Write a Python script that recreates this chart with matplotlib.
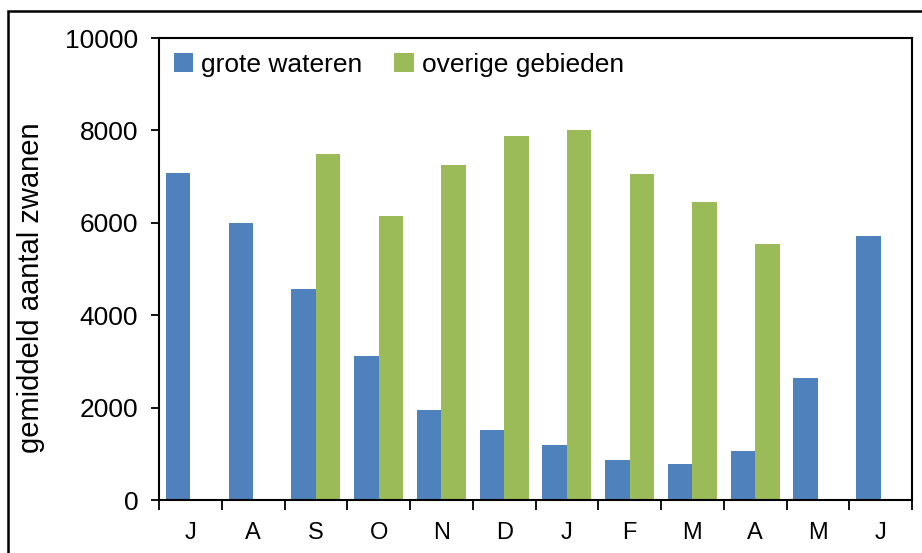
import numpy as np
import matplotlib.pyplot as plt
from matplotlib.patches import Rectangle

months = ['J', 'A', 'S', 'O', 'N', 'D', 'J', 'F', 'M', 'A', 'M', 'J']
grote_wateren = [7070, 5990, 4560, 3110, 1950, 1520, 1190, 870, 770, 1060, 2630, 5720]
overige_gebieden = [0, 0, 7480, 6140, 7250, 7880, 8000, 7050, 6440, 5550, 0, 0]

blue = '#4F81BD'
green = '#9BBB59'

plt.rcParams['font.family'] = ['Liberation Sans', 'DejaVu Sans']

fig = plt.figure(figsize=(9.22, 5.53), dpi=100)
ax = fig.add_axes([159/922, 1 - 500/553, (912 - 159)/922, (500 - 38)/553])

x = np.arange(len(months))
w = 0.39
ax.bar(x - w/2, grote_wateren, w, color=blue, label='grote wateren')
ax.bar(x + w/2, overige_gebieden, w, color=green, label='overige gebieden')

ax.set_xlim(-0.5, len(months) - 0.5)
ax.set_ylim(0, 10000)
ax.set_yticks(np.arange(0, 10001, 2000))
ax.tick_params(axis='y', labelsize=19, length=6, width=1.3, pad=9)
ax.set_xticks(x)
ax.set_xticklabels(months)
ax.set_xticks(np.arange(-0.5, len(months)), minor=True)
ax.tick_params(axis='x', which='major', length=0, labelsize=17, pad=16)
ax.tick_params(axis='x', which='minor', length=7, width=1.3)
for s in ax.spines.values():
    s.set_linewidth(1.5)

ax.set_ylabel('gemiddeld aantal zwanen', fontsize=21)
ax.yaxis.set_label_coords(-0.152, 0.46)

ax.legend(loc='upper left', ncol=2, frameon=False, fontsize=19,
          handlelength=0.75, handleheight=0.75, handletextpad=0.3,
          columnspacing=1.2, borderaxespad=0.15, bbox_to_anchor=(0.0, 1.0))

# outer frame of the figure (extends past right and bottom edges)
fig.patches.append(Rectangle((8/922, -0.1), 1.2, 1 - 11/553 + 0.1,
                             transform=fig.transFigure, fill=False,
                             edgecolor='black', linewidth=1.8, clip_on=False))

fig.savefig('out.png', dpi=100)
